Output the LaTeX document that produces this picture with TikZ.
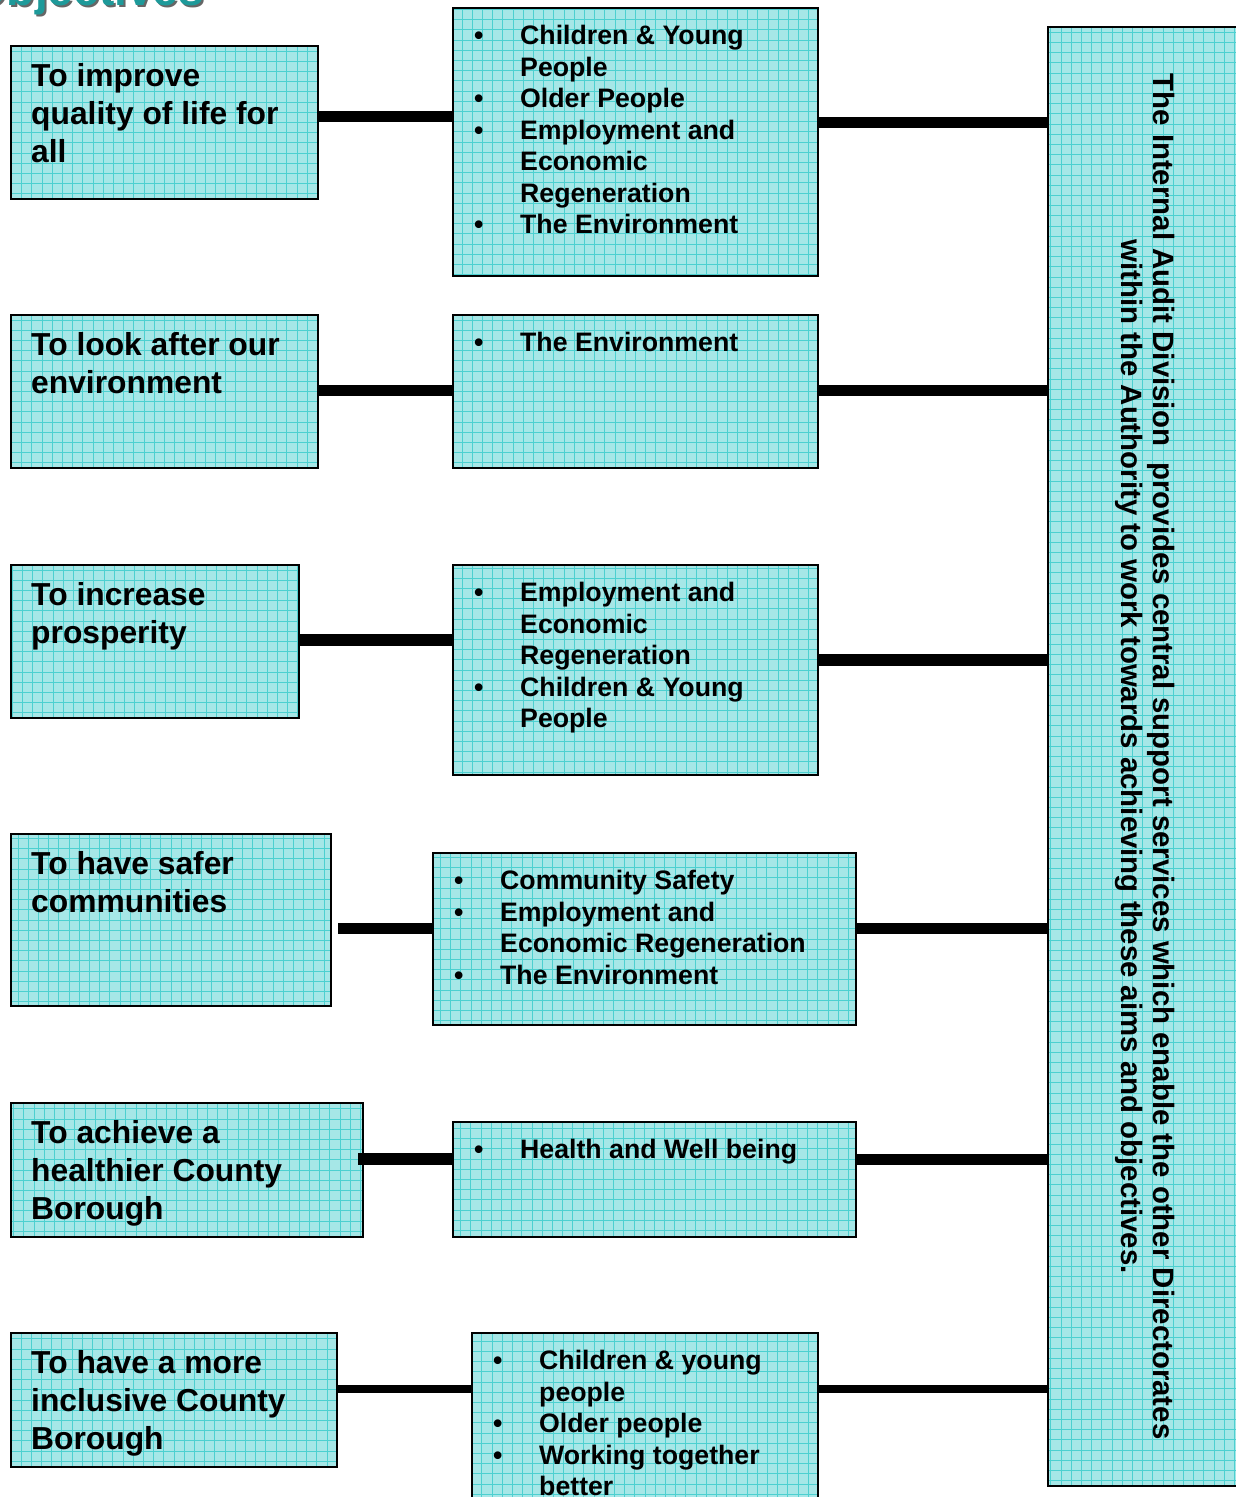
\documentclass[tikz,border=0pt]{standalone}
\usepackage{fontspec}
\setmainfont{Liberation Sans}
\usetikzlibrary{positioning, calc}
\definecolor{iafill}{HTML}{A6E7E7}
\definecolor{iagrid}{HTML}{4DD0D0}
\definecolor{iateal}{HTML}{1E9A9A}
\newcommand{\bul}{\makebox[46pt][l]{\textbullet}}
\newcommand{\ind}{\hspace*{46pt}}
\tikzset{
  card/.style={draw=black, line width=2pt, fill=iafill, anchor=north west, inner sep=0pt,
    path picture={\draw[iagrid, line width=0.9pt] (path picture bounding box.south west)
      grid[step=10.2pt] (path picture bounding box.north east);}},
  aimtxt/.style={inner sep=0pt, align=left, font=\fontsize{31.8}{38}\selectfont\bfseries},
  listtxt/.style={inner sep=0pt, align=left, font=\fontsize{26.7}{31.5}\selectfont\bfseries},
  link/.style={line width=11pt}
}

\begin{document}
\begin{tikzpicture}[x=1pt, y=-1pt]
\useasboundingbox (0,0) rectangle (1236,1497);
% heading, cut by the top edge
\node[anchor=base west, inner sep=0pt, text=black!60, font=\fontsize{46}{46}\selectfont\bfseries] (headsh) at (-27,7) {Objectives};
\node[anchor=base west, inner sep=0pt, text=iateal, font=\fontsize{46}{46}\selectfont\bfseries] (head) at (-29,5) {Objectives};

% aims (left column)
\node[card, minimum width=307pt, minimum height=153pt] (aim1) at (10,45) {};
\node[card, minimum width=307pt, minimum height=153pt] (aim2) at (10,314) {};
\node[card, minimum width=288pt, minimum height=153pt] (aim3) at (10,564) {};
\node[card, minimum width=320pt, minimum height=172pt] (aim4) at (10,833) {};
\node[card, minimum width=352pt, minimum height=134pt] (aim5) at (10,1102) {};
\node[card, minimum width=326pt, minimum height=134pt] (aim6) at (10,1332) {};
\node[aimtxt, below right=18pt and 21pt of aim1.north west] (aim1t) {To improve\\quality of life for\\all};
\node[aimtxt, below right=18pt and 21pt of aim2.north west] (aim2t) {To look after our\\environment};
\node[aimtxt, below right=18pt and 21pt of aim3.north west] (aim3t) {To increase\\prosperity};
\node[aimtxt, below right=18pt and 21pt of aim4.north west] (aim4t) {To have safer\\communities};
\node[aimtxt, below right=18pt and 21pt of aim5.north west] (aim5t) {To achieve a\\healthier County\\Borough};
\node[aimtxt, below right=18pt and 21pt of aim6.north west] (aim6t) {To have a more\\inclusive County\\Borough};

% themes (middle column)
\node[card, minimum width=365pt, minimum height=268pt] (theme1) at (452,7) {};
\node[card, minimum width=365pt, minimum height=153pt] (theme2) at (452,314) {};
\node[card, minimum width=365pt, minimum height=210pt] (theme3) at (452,564) {};
\node[card, minimum width=423pt, minimum height=172pt] (theme4) at (432,852) {};
\node[card, minimum width=403pt, minimum height=115pt] (theme5) at (452,1121) {};
\node[card, minimum width=346pt, minimum height=200pt] (theme6) at (471,1332) {};
\node[listtxt, below right=18pt and 22pt of theme1.north west] (theme1t)
  {\bul Children \& Young\\\ind People\\\bul Older People\\\bul Employment and\\\ind Economic\\\ind Regeneration\\\bul The Environment};
\node[listtxt, below right=18pt and 22pt of theme2.north west] (theme2t) {\bul The Environment};
\node[listtxt, below right=18pt and 22pt of theme3.north west] (theme3t)
  {\bul Employment and\\\ind Economic\\\ind Regeneration\\\bul Children \& Young\\\ind People};
\node[listtxt, below right=18pt and 22pt of theme4.north west] (theme4t)
  {\bul Community Safety\\\bul Employment and\\\ind Economic Regeneration\\\bul The Environment};
\node[listtxt, below right=18pt and 22pt of theme5.north west] (theme5t) {\bul Health and Well being};
\node[listtxt, below right=18pt and 22pt of theme6.north west] (theme6t)
  {\bul Children \& young\\\ind people\\\bul Older people\\\bul Working together\\\ind better};

% support division (right)
\node[card, minimum width=230pt, minimum height=1459pt] (audit) at (1047,26) {};
\node[inner sep=0pt, rotate=-90, align=center, font=\fontsize{29.4}{32}\selectfont\bfseries] (audittxt) at ([xshift=-18pt]audit.center)
  {The Internal Audit Division~ provides central support services which enable the other Directorates\\
   within the Authority to work towards achieving these aims and objectives.};

% links
\foreach \n/\ya/\yb/\w in {1/116/122/11, 2/390/390/11, 3/640/660/12, 6/1389/1389/8} {
  \draw[link, line width=\w pt] (aim\n.east |- 0,\ya) -- (theme\n.west |- 0,\ya);
  \draw[link, line width=\w pt] (theme\n.east |- 0,\yb) -- (audit.west |- 0,\yb);}
\draw[link] ($(aim4.east |- 0,928)+(6,0)$) -- (theme4.west |- 0,928);
\draw[link] (theme4.east |- 0,928) -- (audit.west |- 0,928);
\draw[link, line width=12pt] ($(aim5.east |- 0,1159)+(-6,0)$) -- (theme5.west |- 0,1159);
\draw[link] (theme5.east |- 0,1159) -- (audit.west |- 0,1159);
\end{tikzpicture}
\end{document}
